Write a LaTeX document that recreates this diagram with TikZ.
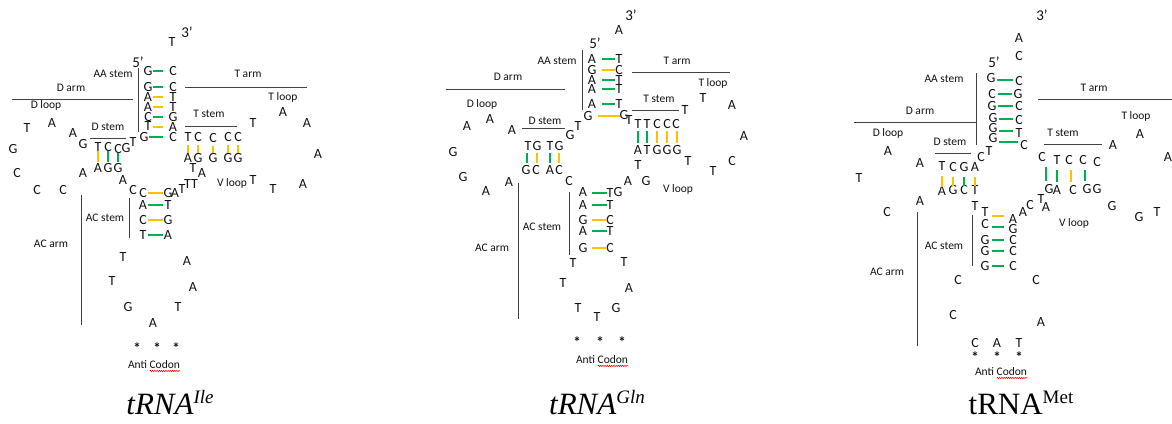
\documentclass[tikz,border=0pt]{standalone}
\usepackage{fontspec}
\setmainfont{Carlito}
\newfontfamily\tnr{Liberation Serif}
\usetikzlibrary{calc,decorations.pathmorphing}
\definecolor{bgreen}{HTML}{00B050}
\definecolor{bgold}{HTML}{FFC000}
\definecolor{ink}{HTML}{111111}
\newcommand\hbond[3]{\draw[#1] let \p1=(#2),\p2=(#3) in (\x1,{round(0.5*\y1+0.5*\y2)}) -- (\x2,{round(0.5*\y1+0.5*\y2)});}
\newcommand\vbond[3]{\draw[#1] let \p1=(#2),\p2=(#3) in ({round(0.5*\x1+0.5*\x2)},\y1) -- ({round(0.5*\x1+0.5*\x2)},\y2);}
\begin{document}
\begin{tikzpicture}[x=1pt,y=-1pt,
  nt/.style={font=\fontsize{14}{14}\selectfont, text=ink, inner sep=0pt, text height=9pt, text depth=0pt},
  lb/.style={font=\fontsize{11.5}{12}\selectfont, text=ink, inner sep=0pt},
  ast/.style={font=\fontsize{15}{15}\selectfont\bfseries, text=ink, inner sep=0pt},
  pr/.style={font=\fontsize{15}{15}\selectfont, text=ink, inner sep=0pt},
  br/.style={draw=ink!80, line width=1pt},
  gb/.style={draw=bgreen, line width=2pt},
  yb/.style={draw=bgold, line width=2pt},
  ti/.style={font=\tnr\fontsize{31}{31}\selectfont, text=black, inner sep=0pt, anchor=base},
  wavy/.style={draw=red, line width=0.5pt, decorate, decoration={snake, amplitude=0.7pt, segment length=2.2pt}},
  h1/.style={shorten <=5pt, shorten >=10pt},
  h2/.style={shorten <=10pt, shorten >=4pt},
  h3/.style={shorten <=6pt, shorten >=6pt},
  hc1/.style={shorten <=5pt, shorten >=5pt},
  hc2/.style={shorten <=9pt, shorten >=3pt},
  hc3/.style={shorten <=7pt, shorten >=9pt},
  v1/.style={shorten <=4pt, shorten >=6pt},
  vt1/.style={shorten <=8pt, shorten >=5pt},
  v2/.style={shorten <=7pt, shorten >=7pt},
  v3/.style={shorten <=10pt, shorten >=4pt},
  vt3/.style={shorten <=10pt, shorten >=8pt},
]
\useasboundingbox (0,0) rectangle (1172,423);

% ================= tRNA Ile =================
\node[pr] (a3) at (187,32) {3’};
\node[pr] (a5) at (138,62) {5’};
\foreach \n/\x/\y/\t in {
  aT0/172/42/T,
  aL1/148/71/G, aL2/148/87/G, aL3/148/97/A, aL4/148/107/A, aL5/148/117/C, aL6/148/126/T, aL7/144/137/G,
  aR1/173/71/C, aR2/173/87/C, aR3/173/97/T, aR4/173/107/T, aR5/173/117/G, aR6/173/127/A, aR7/173/137/C,
  aD1/27/128/T, aD2/52/123/A, aD3/73/133/A, aD4/83/144/G, aD5/13/149/G, aD6/17/173/C, aD7/37/190/C, aD8/63/190/C, aD9/83/173/A,
  aDt1/98/147/T, aDt2/108/147/C, aDt3/118/149/C, aDt4/126/148/G, aDx/133/142/T,
  aDb1/98/168/A, aDb2/108/168/G, aDb3/118/168/G,
  aJ1/123/180/A, aJ2/133/190/C,
  aC1L/143/193/C, aC1R/168/193/G, aC1x/175/193/A, aC1y/182/189/T, aC1z/191/184/TT,
  aC2L/143/205/A, aC2R/168/205/T, aC3L/143/220/C, aC3R/168/220/G, aC4L/143/235/T, aC4R/168/235/A,
  aK1/123/257/T, aK2/112/281/T, aK3/128/307/G, aK4/153/323/A, aK5/178/307/T, aK6/193/287/A, aK7/187/261/A,
  aTt1/188/137/T, aTt2/198/137/C, aTt3/213/138/C, aTt4/228/137/C, aTt5/238/137/C,
  aTb1/188/158/A, aTb2/198/158/G, aTb3/213/158/G, aTb4/228/158/G, aTb5/238/158/G,
  aV1/193/168/T, aV2/202/173/A, aV3/253/180/T,
  aTL1/253/123/T, aTL2/283/112/A, aTL3/307/123/A, aTL4/318/154/A, aTL5/303/184/A, aTL6/273/189/T}
  {\node[nt] (\n) at (\x,\y) {\t};}
\foreach \n/\x in {aS1/137, aS2/157, aS3/176} {\node[ast] (\n) at (\x,348) {*};}
\node[lb] (aAA) at (113,74) {AA stem};
\node[lb] (aTA) at (248,74) {T arm};
\node[lb] (aDA) at (71,88) {D arm};
\node[lb] (aDL) at (46,105) {D loop};
\node[lb] (aTLb) at (283,97) {T loop};
\node[lb] (aTS) at (209,114) {T stem};
\node[lb] (aDS) at (108,127) {D stem};
\node[lb] (aVL) at (232,183) {V loop};
\node[lb] (aACS) at (105,218) {AC stem};
\node[lb] (aACA) at (51,244) {AC arm};
\node[lb] (aAC) at (154,365) {Anti Codon};
\draw[wavy] ([xshift=22pt,yshift=-2pt]aAC.base west) -- ([yshift=-2pt]aAC.base east);
\node[ti] (aTitle) at (170,414) {\itshape tRNA\raisebox{11pt}{\fontsize{19}{19}\selectfont Ile}};
\draw[br] (138,68) -- (138,132);
\draw[br] (185,87) -- (307,87);
\draw[br] (12,99) -- (133,99);
\draw[br] (185,126) -- (237,126);
\draw[br] (90,138) -- (126,138);
\draw[br] (129,198) -- (129,238);
\draw[br] (81,195) -- (81,325);
\hbond{gb,h1}{aL1}{aR1}
\hbond{gb,h1}{aL2}{aR2}
\hbond{yb,h1}{aL3}{aR3}
\hbond{yb,h1}{aL4}{aR4}
\hbond{gb,h1}{aL5}{aR5}
\hbond{yb,h1}{aL6}{aR6}
\hbond{gb,h1}{aL7}{aR7}
\vbond{yb,v1}{aDt1}{aDb1}
\vbond{gb,v1}{aDt2}{aDb2}
\vbond{gb,v1}{aDt3}{aDb3}
\foreach \i in {1,...,5} {\vbond{yb,vt1}{aTt\i}{aTb\i}}
\hbond{yb,hc1}{aC1L}{aC1R}
\hbond{gb,hc1}{aC2L}{aC2R}
\hbond{yb,hc1}{aC3L}{aC3R}
\hbond{gb,hc1}{aC4L}{aC4R}

% ================= tRNA Gln =================
\node[pr] (b3) at (631,15) {3’};
\node[pr] (b5) at (595,43) {5’};
\foreach \n/\x/\y/\t in {
  bT0/619/30/A,
  bL1/592/59/A, bL2/592/70/G, bL3/592/80/A, bL4/592/89/A, bL5/592/104/A, bL6/588/116/G,
  bR1/619/59/T, bR2/619/70/C, bR3/619/80/T, bR4/619/89/T, bR5/619/104/T, bR6/624/115/G, bRx/629/120/T,
  bD1/467/126/A, bD2/490/119/A, bD3/512/130/A, bD4/453/152/G, bD5/463/177/G, bD6/486/191/A, bD7/509/182/A,
  bJ1/570/135/G, bJ2/578/126/T,
  bDt1/528/146/T, bDt2/537/146/G, bDt3/550/146/T, bDt4/559/146/G,
  bDb1/526/170/G, bDb2/536/170/C, bDb3/550/170/A, bDb4/559/170/C,
  bJ3/569/181/C,
  bC1L/583/192/A, bC1R/610/193/T, bC1x/618/192/G,
  bC2L/583/205/A, bC2R/610/205/T, bC3L/583/220/G, bC3R/610/220/C,
  bC4L/583/231/A, bC4R/610/231/T, bC5L/583/248/G, bC5R/610/248/C,
  bK1/573/263/T, bK2/563/283/T, bK3/578/308/T, bK4/597/317/T, bK5/616/308/G, bK6/629/288/A, bK7/624/262/T,
  bTt1/638/124/T, bTt2/647/124/T, bTt3/657/124/C, bTt4/667/124/C, bTt5/676/124/C,
  bTb1/638/150/A, bTb2/647/150/T, bTb3/657/150/G, bTb4/667/150/G, bTb5/677/150/G,
  bTx/685/110/T,
  bTL1/703/98/T, bTL2/732/105/A, bTL3/744/136/A, bTL4/732/161/C, bTL5/713/171/T, bTL6/688/161/T,
  bV1/638/165/T, bV2/628/181/A, bV3/646/181/G}
  {\node[nt] (\n) at (\x,\y) {\t};}
\foreach \n/\x in {bS1/577, bS2/600, bS3/622} {\node[ast] (\n) at (\x,342) {*};}
\node[lb] (bAA) at (557,61) {AA stem};
\node[lb] (bTA) at (677,61) {T arm};
\node[lb] (bDA) at (508,77) {D arm};
\node[lb] (bDL) at (482,104) {D loop};
\node[lb] (bTLb) at (713,83) {T loop};
\node[lb] (bTS) at (659,99) {T stem};
\node[lb] (bDS) at (545,121) {D stem};
\node[lb] (bVL) at (678,189) {V loop};
\node[lb] (bACS) at (542,227) {AC stem};
\node[lb] (bACA) at (492,248) {AC arm};
\node[lb] (bAC) at (602,360) {Anti Codon};
\draw[wavy] ([xshift=22pt,yshift=-2pt]bAC.base west) -- ([yshift=-2pt]bAC.base east);
\node[ti] (bTitle) at (597,414) {\itshape tRNA\raisebox{11pt}{\fontsize{19}{19}\selectfont Gln}};
\draw[br] (582,50) -- (582,110);
\draw[br] (632,72) -- (730,72);
\draw[br] (446,89) -- (565,89);
\draw[br] (632,110) -- (679,110);
\draw[br] (522,128) -- (565,128);
\draw[br] (569,192) -- (569,255);
\draw[br] (518,183) -- (518,319);
\hbond{gb,h2}{bL1}{bR1}
\hbond{yb,h2}{bL2}{bR2}
\hbond{gb,h2}{bL3}{bR3}
\hbond{gb,h2}{bL4}{bR4}
\hbond{gb,h2}{bL5}{bR5}
\hbond{yb,h2}{bL6}{bR6}
\vbond{gb,v2}{bDt1}{bDb1}
\vbond{yb,v2}{bDt2}{bDb2}
\vbond{gb,v2}{bDt3}{bDb3}
\vbond{yb,v2}{bDt4}{bDb4}
\vbond{gb,v2}{bTt1}{bTb1}
\vbond{gb,v2}{bTt2}{bTb2}
\vbond{yb,v2}{bTt3}{bTb3}
\vbond{yb,v2}{bTt4}{bTb4}
\vbond{yb,v2}{bTt5}{bTb5}
\hbond{gb,hc2}{bC1L}{bC1R}
\hbond{gb,hc2}{bC2L}{bC2R}
\hbond{yb,hc2}{bC3L}{bC3R}
\hbond{gb,hc2}{bC4L}{bC4R}
\hbond{yb,hc2}{bC5L}{bC5R}

% ================= tRNA Met =================
\node[pr] (c3) at (1042,15) {3’};
\node[pr] (c5) at (994,62) {5’};
\foreach \n/\x/\y/\t in {
  cA0/1019/38/A, cC0/1019/56/C,
  cL1/991/78/G, cL2/992/94/C, cL3/992/106/G, cL4/993/118/G, cL5/993/128/G, cL6/993/138/G, cL7/989/151/T, cL8/981/157/C,
  cR1/1019/81/C, cR2/1018/94/G, cR3/1019/106/C, cR4/1019/120/C, cR5/1019/133/T, cR6/1024/145/C,
  cD1/888/151/A, cD2/920/163/A, cD3/859/178/T, cD4/920/201/A, cD5/887/212/C,
  cDt1/942/166/T, cDt2/953/167/C, cDt3/964/167/G, cDt4/975/167/A,
  cDb1/942/191/A, cDb2/953/190/G, cDb3/964/190/C, cDb4/975/190/T,
  cJ1/975/206/T,
  cC1L/985/212/T, cC1R/1013/219/A, cC1x/1023/212/A, cC1y/1030/205/C, cC1z/1041/199/T, cC1w/1046/207/A,
  cC2L/985/224/C, cC2R/1013/229/G, cC3L/985/240/G, cC3R/1013/240/C,
  cC4L/985/251/G, cC4R/1013/251/C, cC5L/985/266/G, cC5R/1013/266/C,
  cK1/958/280/C, cK2/953/315/C, cK3/975/343/C, cK4/997/343/A, cK5/1019/343/T, cK6/1041/322/A, cK7/1036/280/C,
  cTt1/1042/157/C, cTt2/1057/160/T, cTt3/1069/160/C, cTt4/1083/160/C, cTt5/1097/162/C,
  cTb1/1049/189/G, cTb2/1057/190/A, cTb3/1073/190/C, cTb4/1087/189/G, cTb5/1097/189/G,
  cTL1/1113/145/A, cTL2/1140/134/A, cTL3/1168/157/A,
  cV1/1112/206/G, cV2/1139/217/G, cV3/1157/212/T}
  {\node[nt] (\n) at (\x,\y) {\t};}
\foreach \n/\x in {cS1/975, cS2/997, cS3/1019} {\node[ast] (\n) at (\x,357) {*};}
\node[lb] (cAA) at (944,79) {AA stem};
\node[lb] (cTA) at (1094,88) {T arm};
\node[lb] (cDA) at (920,111) {D arm};
\node[lb] (cDL) at (888,133) {D loop};
\node[lb] (cTLb) at (1136,116) {T loop};
\node[lb] (cTS) at (1063,133) {T stem};
\node[lb] (cDS) at (950,142) {D stem};
\node[lb] (cVL) at (1074,223) {V loop};
\node[lb] (cACS) at (944,246) {AC stem};
\node[lb] (cACA) at (887,272) {AC arm};
\node[lb] (cAC) at (1001,372) {Anti Codon};
\draw[wavy] ([xshift=22pt,yshift=-2pt]cAC.base west) -- ([yshift=-2pt]cAC.base east);
\node[ti] (cTitle) at (1021,414) {tRNA\raisebox{11pt}{\fontsize{19}{19}\selectfont Met}};
\draw[br] (976,73) -- (976,145);
\draw[br] (1038,99) -- (1172,99);
\draw[br] (854,122) -- (976,122);
\draw[br] (1044,144) -- (1102,144);
\draw[br] (935,153) -- (971,153);
\draw[br] (972,215) -- (972,266);
\draw[br] (917,212) -- (917,346);
\foreach \i in {1,...,6} {\hbond{gb,h3}{cL\i}{cR\i}}
\vbond{yb,v3}{cDt1}{cDb1}
\vbond{yb,v3}{cDt2}{cDb2}
\vbond{gb,v3}{cDt3}{cDb3}
\vbond{yb,v3}{cDt4}{cDb4}
\vbond{gb,vt3}{cTt1}{cTb1}
\vbond{gb,vt3}{cTt2}{cTb2}
\vbond{yb,vt3}{cTt3}{cTb3}
\vbond{gb,vt3}{cTt4}{cTb4}
\hbond{yb,hc3}{cC1L}{cC1R}
\foreach \i in {2,...,5} {\hbond{gb,hc3}{cC\i L}{cC\i R}}
\end{tikzpicture}
\end{document}
